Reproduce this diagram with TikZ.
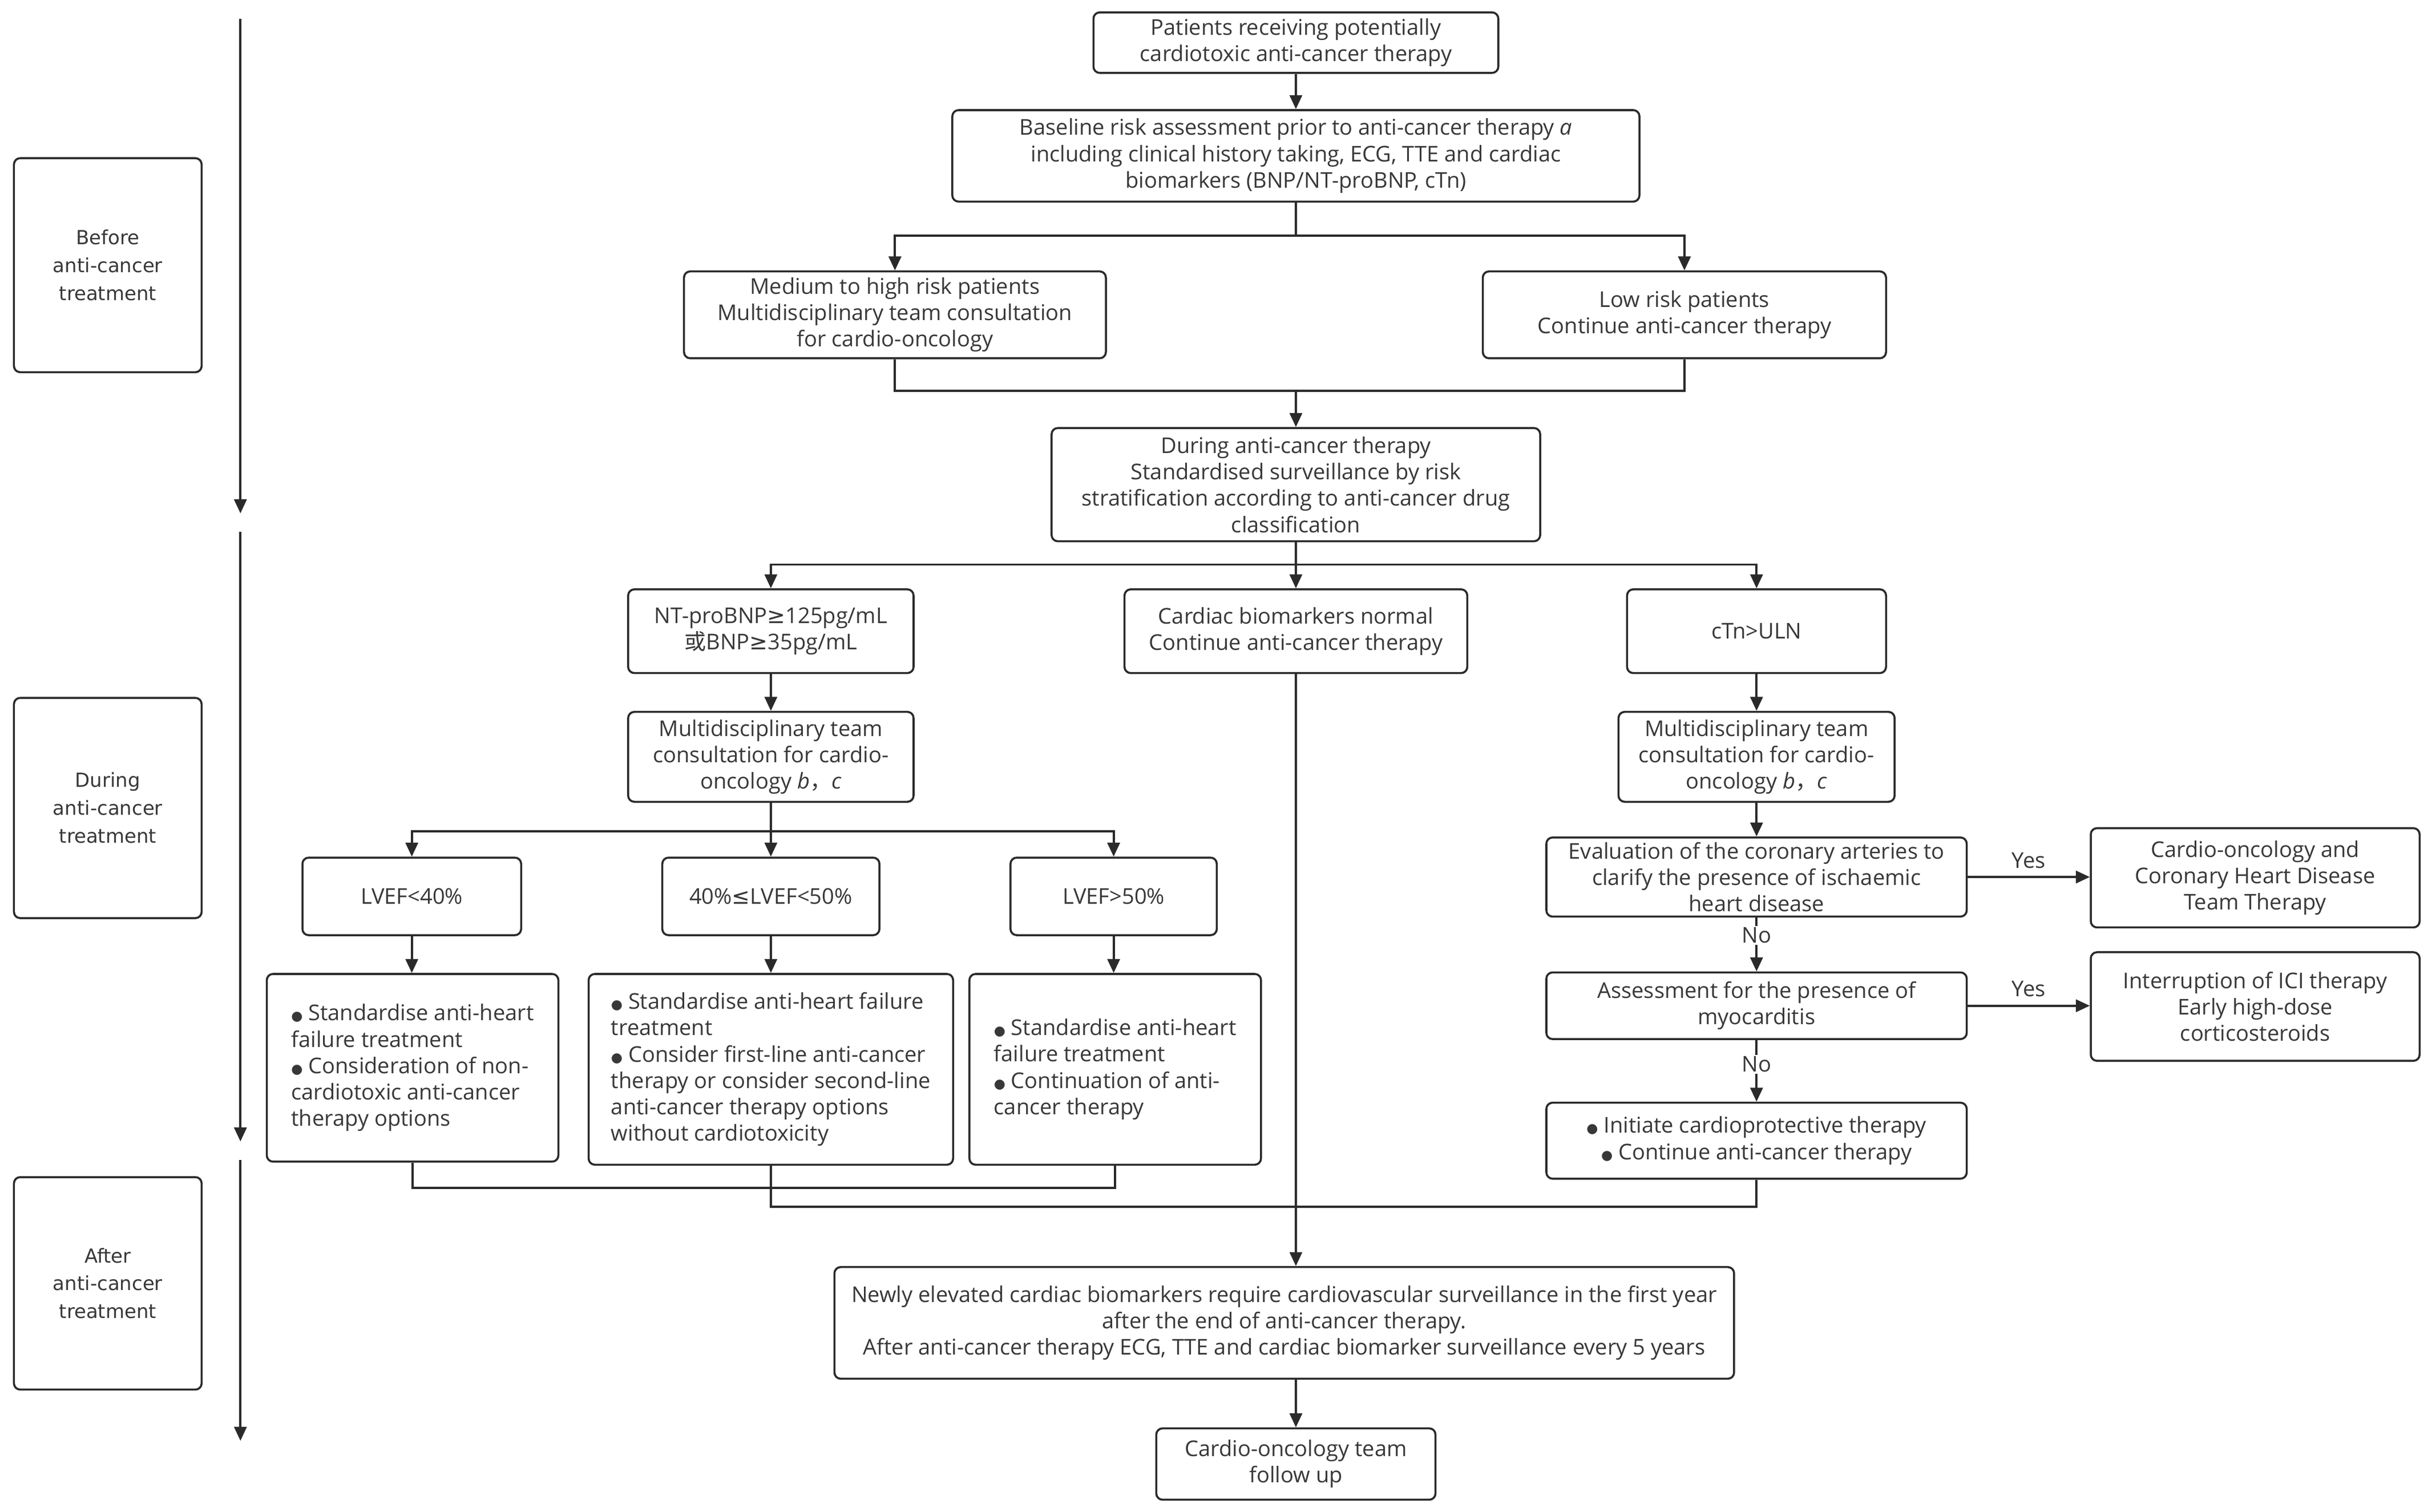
\documentclass[tikz,border=0pt]{standalone}
\usepackage{fontspec}
\setmainfont{Open Sans}
\newfontfamily\cjkf{Noto Sans CJK SC}
\newfontfamily\symf{DejaVu Sans}
\usetikzlibrary{arrows.meta}
\definecolor{linec}{HTML}{2A2A2A}
\definecolor{textc}{HTML}{383838}
\newcommand{\bul}{{\symf\fontsize{8.5}{8.5}\selectfont ●}}
\newcommand{\mygeq}{{\symf ≥}}
\newcommand{\myleq}{{\symf ≤}}
\begin{document}
\begin{tikzpicture}[x=1pt,y=-1pt,
  box/.style={draw=linec, line width=1.3pt, rounded corners=4pt, align=center, inner sep=2pt, text=textc, font=\fontsize{14}{17}\selectfont},
  stage/.style={box, font=\symf\fontsize{12.5}{18}\selectfont},
  conn/.style={draw=linec, line width=1.4pt},
  arr/.style={conn, -{Triangle[length=9pt,width=8pt]}},
  lab/.style={text=textc, font=\fontsize{14}{15}\selectfont, inner sep=1pt}]
\fill[white] (0,0) rectangle (1568,974.6);
\useasboundingbox (0,0) rectangle (1568,974.6);

% timeline
\coordinate (ta1) at (155,12);
\coordinate (tb1) at (155,331);
\coordinate (ta2) at (155,343);
\coordinate (tb2) at (155,736);
\coordinate (ta3) at (155,748);
\coordinate (tb3) at (155,929);
\draw[arr] (ta1) -- (tb1);
\draw[arr] (ta2) -- (tb2);
\draw[arr] (ta3) -- (tb3);

\node[stage, minimum width=121pt, minimum height=138pt] (before) at (69.5,171) {Before\\anti-cancer\\treatment};
\node[stage, minimum width=121pt, minimum height=142pt] (during) at (69.5,521) {During\\anti-cancer\\treatment};
\node[stage, minimum width=121pt, minimum height=137pt] (after) at (69.5,827.5) {After\\anti-cancer\\treatment};

% main flow
\node[box, minimum width=261pt, minimum height=39pt] (p1) at (835.5,27.5) {Patients receiving potentially\\cardiotoxic anti-cancer therapy};
\node[box, minimum width=443pt, minimum height=59pt] (p2) at (835.5,100.5) {Baseline risk assessment prior to anti-cancer therapy \textit{a}\\including clinical history taking, ECG, TTE and cardiac\\biomarkers (BNP/NT-proBNP, cTn)};
\node[box, minimum width=272pt, minimum height=56pt] (m) at (577,203) {Medium to high risk patients\\Multidisciplinary team consultation\\for cardio-oncology};
\node[box, minimum width=260pt, minimum height=56pt] (l) at (1086,203) {Low risk patients\\Continue anti-cancer therapy};
\node[box, minimum width=315pt, minimum height=73pt] (d) at (835.5,312.5) {During anti-cancer therapy\\Standardised surveillance by risk\\stratification according to anti-cancer drug\\classification};
\node[box, minimum width=184pt, minimum height=54pt] (n1) at (497,407) {NT-proBNP\mygeq125pg/mL\\{\cjkf 或}BNP\mygeq35pg/mL};
\node[box, minimum width=221pt, minimum height=54pt] (cb) at (835.5,407) {Cardiac biomarkers normal\\Continue anti-cancer therapy};
\node[box, minimum width=167pt, minimum height=54pt] (ct) at (1132.5,407) {cTn>ULN};
\node[box, minimum width=184pt, minimum height=58pt] (mdt1) at (497,488) {Multidisciplinary team\\consultation for cardio-\\oncology \textit{b}{\cjkf ，}\textit{c}};
\node[box, minimum width=178pt, minimum height=58pt] (mdt2) at (1132.5,488) {Multidisciplinary team\\consultation for cardio-\\oncology \textit{b}{\cjkf ，}\textit{c}};
\node[box, minimum width=141pt, minimum height=50pt] (e1) at (265.5,578) {LVEF<40\%};
\node[box, minimum width=140pt, minimum height=50pt] (e2) at (497,578) {40\%\myleq LVEF<50\%};
\node[box, minimum width=133pt, minimum height=50pt] (e3) at (718,578) {LVEF>50\%};
\node[box, align=left, minimum width=188pt, minimum height=121pt] (t1) at (266,688.5) {\bul\ Standardise anti-heart\\failure treatment\\\bul\ Consideration of non-\\cardiotoxic anti-cancer\\therapy options};
\node[box, align=left, minimum width=235pt, minimum height=123pt] (t2) at (497,689.5) {\bul\ Standardise anti-heart failure\\treatment\\\bul\ Consider first-line anti-cancer\\therapy or consider second-line\\anti-cancer therapy options\\without cardiotoxicity};
\node[box, align=left, minimum width=188pt, minimum height=123pt] (t3) at (719,689.5) {\bul\ Standardise anti-heart\\failure treatment\\\bul\ Continuation of anti-\\cancer therapy};
\node[box, minimum width=271pt, minimum height=51pt] (ev) at (1132.5,565.5) {Evaluation of the coronary arteries to\\clarify the presence of ischaemic\\heart disease};
\node[box, minimum width=271pt, minimum height=43pt] (as) at (1132.5,648.5) {Assessment for the presence of\\myocarditis};
\node[box, minimum width=271pt, minimum height=49pt] (cp) at (1132.5,735.5) {\bul\ Initiate cardioprotective therapy\\\bul\ Continue anti-cancer therapy};
\node[box, minimum width=212pt, minimum height=64pt] (co) at (1454,566) {Cardio-oncology and\\Coronary Heart Disease\\Team Therapy};
\node[box, minimum width=212pt, minimum height=70pt] (ic) at (1454,649) {Interruption of ICI therapy\\Early high-dose\\corticosteroids};
\node[box, minimum width=580pt, minimum height=72pt] (f) at (828,853) {Newly elevated cardiac biomarkers require cardiovascular surveillance in the first year\\after the end of anti-cancer therapy.\\After anti-cancer therapy ECG, TTE and cardiac biomarker surveillance every 5 years};
\node[box, minimum width=180pt, minimum height=46pt] (g) at (835.5,944) {Cardio-oncology team\\follow up};

% connectors
\draw[arr] (p1.south) -- (p2.north);
\coordinate (j1) at (835.5,152);
\draw[conn] (p2.south) -- (j1);
\draw[arr] (j1) -| (m.north);
\draw[arr] (j1) -| (l.north);
\coordinate (j2) at (835.5,252);
\draw[conn] (m.south) |- (j2) -| (l.south);
\draw[arr] (j2) -- (d.north);
\coordinate (j3) at (835.5,364);
\draw[conn] (d.south) -- (j3);
\draw[arr] (j3) -| (n1.north);
\draw[arr] (j3) -- (cb.north);
\draw[arr] (j3) -| (ct.north);
\draw[arr] (n1.south) -- (mdt1.north);
\coordinate (j4) at (497,536);
\draw[conn] (mdt1.south) -- (j4);
\draw[arr] (j4) -| (e1.north);
\draw[arr] (j4) -- (e2.north);
\draw[arr] (j4) -| (e3.north);
\draw[arr] (e1.south) -- (e1.south |- t1.north);
\draw[arr] (e2.south) -- (e2.south |- t2.north);
\draw[arr] (e3.south) -- (e3.south |- t3.north);
\coordinate (k1) at (497,766);
\draw[conn] (t1.south) |- (k1) -| (t3.south);
\coordinate (k2) at (835.5,778);
\draw[conn] (t2.south) |- (k2) -| (cp.south);
\draw[arr] (cb.south) -- (cb.south |- f.north);
\draw[arr] (g.north |- f.south) -- (g.north);
\draw[arr] (ct.south) -- (mdt2.north);
\draw[arr] (mdt2.south) -- (ev.north);
\draw[arr] (ev.south) -- node[lab, fill=white, pos=0.33] {No} (as.north);
\draw[arr] (as.south) -- node[lab, fill=white, pos=0.39] {No} (cp.north);
\draw[arr] (ev.east) -- node[lab, above=4pt] {Yes} (co.west |- ev.east);
\draw[arr] (as.east) -- node[lab, above=4pt] {Yes} (ic.west |- as.east);
\end{tikzpicture}
\end{document}
